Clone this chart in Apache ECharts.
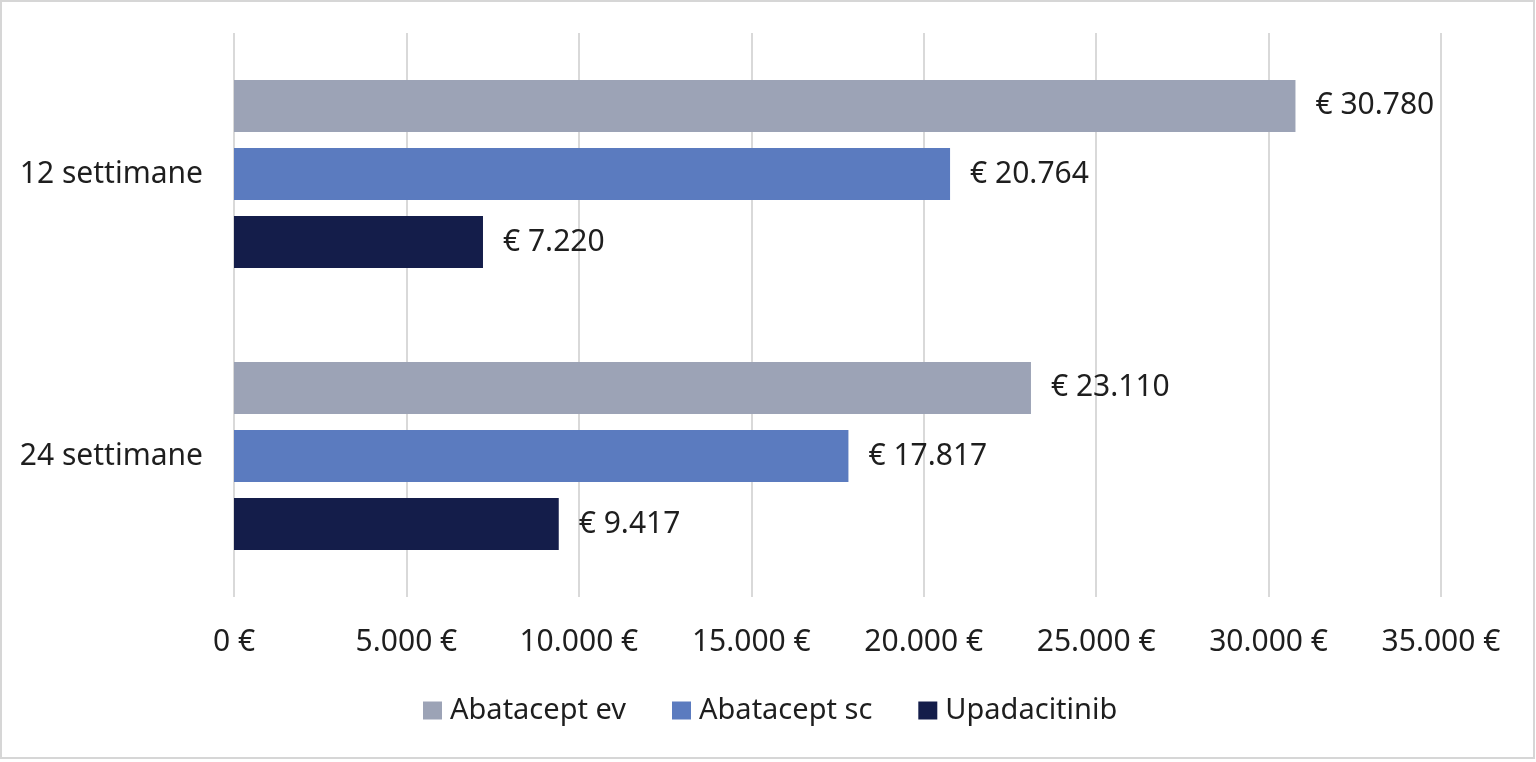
<!DOCTYPE html>
<html>
<head>
<meta charset="utf-8">
<script src="https://cdn.jsdelivr.net/npm/echarts@6/dist/echarts.min.js"></script>
<style>
html,body{margin:0;padding:0;background:#fff;}
#chart{width:1536px;height:762px;}
</style>
</head>
<body>
<div id="chart"></div>
<script>
const categories = ['12 settimane', '24 settimane'];
const seriesNames = ['Abatacept ev', 'Abatacept sc', 'Upadacitinib'];
const abataceptEv = [30780, 23110];
const abataceptSc = [20764, 17817];
const upadacitinib = [7220, 9417];
const axisTicks = [0, 5000, 10000, 15000, 20000, 25000, 30000, 35000];

const colors = ['#9ca3b6', '#5b7bbf', '#141d4a'];
const FONT = 'Noto Sans';
const TEXT = '#1e1e1e';

function fmt(n) {
  return String(Math.round(n)).replace(/\B(?=(\d{3})+(?!\d))/g, '.');
}

const chart = echarts.init(document.getElementById('chart'), null, {renderer: 'canvas'});

const seriesData = [abataceptEv, abataceptSc, upadacitinib];

chart.setOption({
  backgroundColor: '#ffffff',
  animation: false,
  color: colors,
  textStyle: {fontFamily: FONT},
  graphic: [{
    type: 'rect',
    shape: {x: 1, y: 1, width: 1533, height: 757},
    style: {fill: 'none', stroke: '#d6d6d6', lineWidth: 2},
    silent: true
  }],
  grid: {left: 234, right: 95, top: 33, bottom: 165, containLabel: false},
  legend: {
    data: seriesNames,
    left: 423,
    top: 696,
    padding: 0,
    icon: 'rect',
    itemWidth: 19,
    itemHeight: 18,
    itemGap: 46,
    textStyle: {fontFamily: FONT, fontSize: 29, color: TEXT, padding: [0, 0, 0, 3]}
  },
  xAxis: {
    type: 'value',
    min: axisTicks[0],
    max: axisTicks[axisTicks.length - 1],
    interval: axisTicks[1] - axisTicks[0],
    axisLine: {show: false},
    axisTick: {show: false},
    splitLine: {show: true, lineStyle: {color: '#d9d9d9', width: 2}},
    axisLabel: {
      margin: 30,
      fontFamily: FONT,
      fontSize: 30,
      color: TEXT,
      formatter: v => fmt(v) + ' €'
    }
  },
  yAxis: {
    type: 'category',
    data: categories,
    inverse: true,
    axisLine: {show: false},
    axisTick: {show: false},
    splitLine: {show: false},
    axisLabel: {margin: 31, fontFamily: FONT, fontSize: 30, color: TEXT}
  },
  series: seriesNames.map((name, i) => ({
    name: name,
    type: 'bar',
    data: seriesData[i],
    barWidth: 52,
    barGap: '31%',
    itemStyle: {color: colors[i]},
    label: {
      show: true,
      position: 'right',
      distance: 20,
      fontFamily: FONT,
      fontSize: 30,
      color: TEXT,
      formatter: p => '€ ' + fmt(p.value)
    }
  }))
});
</script>
</body>
</html>
